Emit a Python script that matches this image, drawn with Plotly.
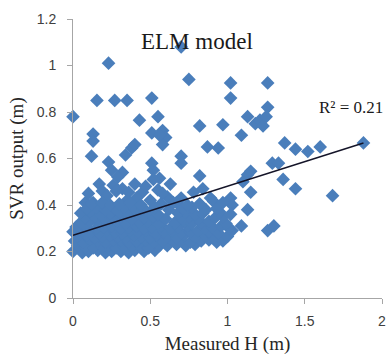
import plotly.graph_objects as go

# Measured wave height vs. model output (m)
X_MEASURED = [
    # scattered upper points
    0.00, 0.23, 0.155, 0.27, 0.35, 0.51, 0.43, 0.55, 0.70, 0.75,
    1.02, 1.02, 1.26, 1.26, 1.13, 0.97, 0.82, 1.09, 1.18, 1.21,
    1.23, 1.25, 0.13, 0.13, 0.12, 0.51, 0.58, 0.60, 0.58, 0.56,
    0.34, 0.38, 0.40, 0.23, 0.25, 0.32, 0.29, 0.51, 0.52, 0.56,
    0.70, 0.70, 0.87, 0.94, 1.37, 1.44, 1.52, 1.60, 1.88, 1.29,
    1.33, 1.36, 1.44, 1.68, 1.13, 0.82, 1.15, 1.10, 1.15, 1.02,
    1.03, 0.89, 0.91, 0.78, 0.84, 0.70, 0.67, 0.63, 1.13, 1.09,
    1.26, 1.30, 0.17, 0.19, 0.26, 0.32, 0.40, 0.45, 0.52, 0.55,
    0.08, 0.13, 0.35, 0.41, 0.61, 0.50,
    0.10, 0.22, 0.28, 0.36, 0.47, 0.58,
    # dense lower band
    0.00, 0.06, 0.10, 0.16, 0.21, 0.25, 0.31, 0.36, 0.40, 0.46, 0.53,
    0.03, 0.08, 0.13, 0.19, 0.23, 0.28, 0.33, 0.38, 0.44, 0.49, 0.56, 0.61, 0.67, 0.73, 0.79,
    0.01, 0.06, 0.11, 0.16, 0.21, 0.26, 0.31, 0.36, 0.41, 0.47, 0.52, 0.58, 0.64, 0.70, 0.76, 0.83, 0.88, 0.93, 0.97,
    0.03, 0.09, 0.14, 0.19, 0.24, 0.29, 0.34, 0.39, 0.44, 0.50, 0.54, 0.61, 0.67, 0.72, 0.79, 0.85, 0.91, 1.00,
    0.00, 0.06, 0.12, 0.17, 0.22, 0.27, 0.32, 0.37, 0.42, 0.47, 0.53, 0.59, 0.64, 0.70, 0.76, 0.81, 0.88, 0.94, 1.03,
    0.02, 0.08, 0.15, 0.20, 0.25, 0.31, 0.36, 0.41, 0.46, 0.51, 0.57, 0.63, 0.68, 0.74, 0.85, 0.90, 0.96, 1.01,
    0.05, 0.11, 0.17, 0.23, 0.28, 0.34, 0.43, 0.49, 0.55, 0.66, 0.72, 0.77, 0.83, 0.88, 0.99,
    0.08, 0.14, 0.20, 0.26, 0.31, 0.38, 0.46, 0.52, 0.60, 0.70, 0.75, 0.81, 0.92, 0.97,
    0.05, 0.11, 0.18, 0.24, 0.30, 0.36, 0.42, 0.48, 0.55, 0.68, 0.73, 0.79, 0.84, 0.95, 1.02,
    0.09, 0.15, 0.21, 0.27, 0.33, 0.40, 0.45, 0.53, 0.62, 0.71, 0.77, 0.86, 0.93,
    0.12, 0.19, 0.24, 0.30, 0.37, 0.44, 0.57, 0.65, 0.74, 0.82, 0.97,
]

Y_OUTPUT = [
    0.78, 1.01, 0.85, 0.85, 0.85, 0.86, 0.765, 0.78, 1.08, 0.94,
    0.925, 0.86, 0.925, 0.82, 0.78, 0.745, 0.74, 0.70, 0.75, 0.765,
    0.74, 0.78, 0.705, 0.675, 0.61, 0.71, 0.72, 0.69, 0.66, 0.70,
    0.615, 0.645, 0.66, 0.585, 0.55, 0.54, 0.52, 0.58, 0.55, 0.515,
    0.61, 0.58, 0.65, 0.645, 0.667, 0.64, 0.63, 0.65, 0.667, 0.58,
    0.58, 0.51, 0.47, 0.44, 0.53, 0.525, 0.545, 0.50, 0.455, 0.43,
    0.40, 0.43, 0.415, 0.455, 0.47, 0.43, 0.41, 0.49, 0.38, 0.31,
    0.29, 0.31, 0.49, 0.46, 0.485, 0.47, 0.49, 0.455, 0.51, 0.465,
    0.41, 0.41, 0.42, 0.43, 0.435, 0.42,
    0.45, 0.44, 0.46, 0.455, 0.48, 0.45,
    0.20, 0.195, 0.20, 0.205, 0.195, 0.20, 0.20, 0.195, 0.205, 0.20, 0.205,
    0.225, 0.22, 0.215, 0.22, 0.225, 0.215, 0.22, 0.225, 0.22, 0.215, 0.225, 0.225, 0.23, 0.225, 0.23,
    0.245, 0.24, 0.25, 0.245, 0.24, 0.25, 0.245, 0.24, 0.245, 0.25, 0.24, 0.245, 0.25, 0.245, 0.24, 0.245, 0.25, 0.24, 0.245,
    0.265, 0.27, 0.26, 0.265, 0.27, 0.265, 0.26, 0.27, 0.265, 0.26, 0.27, 0.265, 0.26, 0.27, 0.265, 0.27, 0.26, 0.265,
    0.285, 0.29, 0.285, 0.28, 0.29, 0.285, 0.28, 0.29, 0.285, 0.29, 0.28, 0.285, 0.29, 0.28, 0.285, 0.29, 0.285, 0.28, 0.29,
    0.305, 0.31, 0.30, 0.305, 0.31, 0.30, 0.305, 0.31, 0.30, 0.305, 0.31, 0.30, 0.305, 0.31, 0.30, 0.305, 0.31, 0.30,
    0.325, 0.33, 0.32, 0.325, 0.33, 0.32, 0.325, 0.33, 0.32, 0.325, 0.33, 0.32, 0.325, 0.33, 0.32,
    0.345, 0.35, 0.34, 0.345, 0.35, 0.34, 0.345, 0.35, 0.34, 0.345, 0.35, 0.34, 0.345, 0.35,
    0.365, 0.37, 0.36, 0.365, 0.37, 0.36, 0.365, 0.37, 0.36, 0.365, 0.37, 0.36, 0.365, 0.37, 0.36,
    0.385, 0.39, 0.38, 0.385, 0.39, 0.38, 0.385, 0.39, 0.38, 0.385, 0.39, 0.38, 0.385,
    0.405, 0.41, 0.40, 0.405, 0.41, 0.40, 0.405, 0.41, 0.40, 0.405, 0.41,
]

# Linear trendline y = slope * x + intercept and its fit statistic
TREND_SLOPE = 0.211
TREND_INTERCEPT = 0.27
R_SQUARED = "0.21"

X_TICKS = [0, 0.5, 1, 1.5, 2]
Y_TICKS = [0, 0.2, 0.4, 0.6, 0.8, 1, 1.2]

MARKER_COLOR = "#4a7ebb"
AXIS_COLOR = "#a6a6a6"
SERIF = "Liberation Serif"
SANS = "Liberation Sans"

fig = go.Figure()

fig.add_trace(go.Scatter(
    x=X_MEASURED, y=Y_OUTPUT, mode="markers",
    marker=dict(symbol="diamond", size=10.5, color=MARKER_COLOR, line=dict(width=0)),
    cliponaxis=False, showlegend=False,
))

x_line = [min(X_MEASURED), max(X_MEASURED)]
y_line = [TREND_SLOPE * v + TREND_INTERCEPT for v in x_line]
fig.add_trace(go.Scatter(
    x=x_line, y=y_line, mode="lines",
    line=dict(color="#141428", width=1.5),
    cliponaxis=False, showlegend=False,
))

fig.add_annotation(
    x=0.80, y=1.105, xref="x", yref="y", text="ELM model", showarrow=False,
    font=dict(family=SERIF, size=23, color="#1a1a1a"), xanchor="center", yanchor="middle",
)
fig.add_annotation(
    x=1.80, y=0.82, xref="x", yref="y", text="R² = " + R_SQUARED, showarrow=False,
    font=dict(family=SERIF, size=17, color="#1a1a1a"), xanchor="center", yanchor="middle",
)

axis_common = dict(
    showgrid=False, zeroline=False, showline=True, linecolor=AXIS_COLOR, linewidth=1,
    ticks="outside", ticklen=5, tickcolor=AXIS_COLOR, tickwidth=1,
    tickfont=dict(family=SANS, size=14, color="#404040"),
)

fig.update_xaxes(
    range=[0, 2], tickvals=X_TICKS, ticktext=[f"{v:g}" for v in X_TICKS],
    title=dict(text="Measured H (m)", font=dict(family=SERIF, size=19, color="#262626"), standoff=8),
    ticklabelstandoff=5,
    **axis_common,
)
fig.update_yaxes(
    range=[0, 1.2], tickvals=Y_TICKS, ticktext=[f"{v:g}" for v in Y_TICKS],
    title=dict(text="SVR output (m)", font=dict(family=SERIF, size=19, color="#262626"), standoff=8),
    ticklabelstandoff=8,
    **axis_common,
)

fig.update_layout(
    width=387, height=360,
    margin=dict(l=73, r=5, t=19, b=62, autoexpand=False),
    plot_bgcolor="white", paper_bgcolor="white",
)

fig.write_html("out.html")
